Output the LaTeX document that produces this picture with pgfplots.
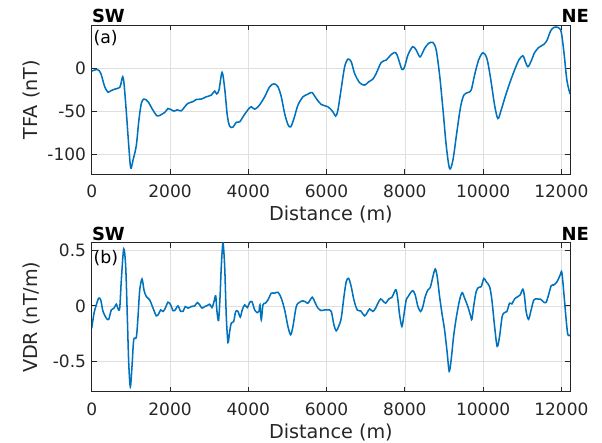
\documentclass[border=0pt]{standalone}
\usepackage{pgfplots}
\pgfplotsset{compat=1.18}
\usepackage{fontspec}
\setmainfont{DejaVu Sans}
\definecolor{mblue}{RGB}{0,114,189}
\definecolor{axgray}{RGB}{38,38,38}
\definecolor{grd}{RGB}{223,223,223}
\pgfplotsset{
  myax/.style={
    scale only axis, width=358.7pt, height=111.75pt, anchor=south west,
    xmin=0, xmax=12220, scaled x ticks=false, scaled y ticks=false,
    xtick={0,2000,4000,6000,8000,10000,12000},
    xticklabels={0,2000,4000,6000,8000,10000,12000},
    xtick pos=both, ytick pos=both, tick align=inside,
    major tick length=3.6pt,
    grid=major, major grid style={grd, line width=0.5pt},
    axis line style={axgray, line width=0.6pt},
    every tick/.style={axgray, line width=0.6pt},
    tick label style={font=\fontsize{12.75pt}{14pt}\selectfont, text=axgray},
    label style={font=\fontsize{14.4pt}{16pt}\selectfont, text=axgray},
    xticklabel style={yshift=-5pt},
    yticklabel style={xshift=-0.75pt},
    xlabel={Distance (m)},
    xlabel style={at={(axis description cs:0.5,-0.275)}, anchor=center},
    ylabel style={at={(axis description cs:-0.125,0.5)}, anchor=center},
    clip mode=individual,
  }
}
\begin{document}
\begin{tikzpicture}
\useasboundingbox (0,0) rectangle (451.5pt,331.5pt);
\begin{axis}[myax, at={(68.8pt,201pt)},
  ymin=-123, ymax=50, ytick={-100,-50,0}, yticklabels={-100,-50,0},
  ylabel={TFA (nT)}]
\addplot[mblue, line width=1.15pt, smooth, tension=0.5] coordinates {
(0,-3.5)(143,-1.8)(230,-6)(332,-21.7)(416,-28)(485,-26.4)(587,-24.5)(715,-22.5)(756,-16)(792,-10)(825,-18)(884,-51)(945,-89.6)(996,-116)(1055,-107)(1140,-89.6)(1200,-62.5)(1267,-41)(1336,-36)(1438,-39)(1540,-47)(1668,-55.5)(1778,-54)(1864,-51.6)(1949,-47)(2017,-48)(2102,-50)(2186,-48.5)(2288,-49.7)(2375,-45)(2459,-41)(2587,-39)(2671,-36.5)(2799,-36)(2927,-33.4)(3055,-31.4)(3141,-26.7)(3192,-30)(3251,-25.6)(3330,-5)(3397,-23.7)(3463,-54.7)(3524,-67.5)(3609,-68.6)(3693,-63)(3780,-62.5)(3864,-56.6)(3949,-51)(4035,-46)(4076,-45)(4163,-47.7)(4247,-45)(4316,-41)(4418,-33.4)(4546,-21.7)(4656,-18.3)(4758,-21.7)(4843,-33.4)(4929,-52.8)(5013,-65.6)(5082,-68.3)(5167,-58.6)(5269,-43)(5397,-33.4)(5524,-30.3)(5626,-28.4)(5736,-35.3)(5864,-42.3)(6035,-45)(6163,-50.8)(6232,-55.8)(6290,-48.8)(6375,-23.7)(6462,1.5)(6546,10.4)(6630,7.3)(6717,-6.3)(6845,-17)(6972,-19.8)(7074,-16)(7184,-12.8)(7268,-6.3)(7396,6.5)(7524,9.3)(7636,15)(7738,18.1)(7805,15)(7925,-1.6)(7994,1.5)(8078,15)(8200,24.8)(8290,21)(8390,13)(8505,22.8)(8607,28.6)(8717,29.8)(8801,21)(8888,-8)(8972,-47)(9057,-89.6)(9143,-116.7)(9228,-107)(9330,-74)(9424,-45)(9508,-31.4)(9610,-28.4)(9695,-25.6)(9782,-8.1)(9884,9.3)(9994,17.8)(10096,11.2)(10191,-12)(10293,-43)(10377,-58.6)(10461,-48.8)(10563,-33.4)(10676,-17.9)(10803,-2.3)(10913,9.3)(11015,14.3)(11074,8.1)(11143,1.5)(11227,8.1)(11314,17.8)(11424,24)(11552,27.5)(11636,32.6)(11723,43)(11807,47.2)(11910,47.2)(11994,42.2)(12063,19)(12140,-14)(12220,-30)
};
\node[anchor=south west, inner sep=0pt, font=\fontsize{13.5pt}{15pt}\selectfont\bfseries] at (rel axis cs:0,1) [yshift=1.5pt] {SW};
\node[anchor=south west, inner sep=0pt, font=\fontsize{13.5pt}{15pt}\selectfont\bfseries] at (axis cs:12000,50) [yshift=1.5pt] {NE};
\node[anchor=north west, inner sep=0pt, font=\fontsize{13pt}{15pt}\selectfont] at (rel axis cs:0,1) [xshift=1.2pt, yshift=-4pt] {(a)};
\end{axis}
\begin{axis}[myax, at={(68.8pt,37.7pt)},
  ymin=-0.768, ymax=0.565, ytick={-0.5,0,0.5}, yticklabels={-0.5,0,0.5},
  ylabel={VDR (nT/m)}]
\addplot[mblue, line width=1.15pt, smooth, tension=0.5] coordinates {
(0,-0.2)(59,-0.065)(118,0.01)(179,0.07)(230,0.053)(289,-0.05)(373,-0.11)(434,-0.12)(500,-0.036)(570,-0.02)(628,0.015)(672,-0.027)(715,-0.02)(756,0.23)(817,0.51)(868,0.35)(909,-0.095)(945,-0.51)(986,-0.724)(1029,-0.54)(1073,-0.303)(1140,-0.28)(1183,-0.095)(1226,0.14)(1285,0.24)(1336,0.14)(1395,0.083)(1481,0.053)(1566,-0.02)(1650,-0.089)(1711,-0.071)(1762,-0.036)(1821,-0.05)(1880,-0.02)(1949,0.033)(2017,0.009)(2076,-0.042)(2135,-0.036)(2204,0)(2273,-0.05)(2332,-0.05)(2390,-0.006)(2459,-0.02)(2544,-0.006)(2631,0)(2697,0.03)(2758,0.009)(2817,-0.02)(2886,-0.006)(2952,0.003)(3014,0.015)(3072,-0.015)(3124,0.038)(3167,0.09)(3200,-0.05)(3240,-0.13)(3277,0.07)(3310,0.35)(3353,0.56)(3397,0.35)(3438,-0.095)(3481,-0.327)(3524,-0.23)(3566,-0.154)(3627,-0.14)(3678,-0.05)(3737,-0.05)(3795,-0.1)(3846,-0.036)(3908,0.009)(3974,-0.015)(4035,0.03)(4094,0.038)(4163,-0.036)(4229,-0.06)(4273,-0.05)(4298,0.009)(4332,-0.125)(4375,0.009)(4434,0.024)(4503,0.053)(4587,0.113)(4674,0.113)(4758,0.122)(4843,0.069)(4929,-0.036)(5013,-0.184)(5082,-0.258)(5141,-0.184)(5226,-0.006)(5312,0.033)(5397,0.045)(5455,0.038)(5524,0.024)(5634,0.077)(5695,0.038)(5780,-0.02)(5864,-0.042)(5951,-0.036)(6035,-0.036)(6120,-0.05)(6188,-0.17)(6247,-0.223)(6308,-0.184)(6375,-0.11)(6444,0.083)(6503,0.217)(6564,0.246)(6630,0.172)(6699,0.053)(6783,-0.036)(6870,-0.045)(6972,-0.089)(7038,-0.06)(7100,-0.027)(7184,-0.05)(7253,-0.02)(7312,0.024)(7381,0.062)(7440,0.045)(7509,0.024)(7585,0.06)(7670,0.077)(7738,0.128)(7780,0.142)(7823,0.053)(7866,-0.08)(7925,-0.184)(7976,-0.08)(8035,0.053)(8078,0.08)(8147,0.118)(8206,0.136)(8265,0.098)(8334,-0.006)(8403,-0.05)(8461,-0.006)(8520,0.083)(8589,0.142)(8648,0.163)(8717,0.261)(8776,0.33)(8827,0.261)(8888,0.083)(8954,-0.08)(9015,-0.214)(9082,-0.42)(9133,-0.585)(9184,-0.48)(9246,-0.273)(9312,-0.11)(9399,0.053)(9465,0.118)(9527,0.069)(9610,-0.006)(9680,-0.089)(9713,-0.12)(9764,0.009)(9823,0.128)(9884,0.166)(9950,0.172)(10019,0.246)(10078,0.217)(10165,0.172)(10224,0.053)(10293,-0.184)(10359,-0.362)(10420,-0.273)(10487,-0.095)(10548,-0.06)(10607,-0.05)(10676,0.024)(10735,0.018)(10803,0.062)(10888,0.083)(10947,0.098)(11015,0.149)(11058,0.083)(11099,-0.05)(11161,-0.12)(11227,-0.036)(11296,0.053)(11381,0.062)(11468,0.06)(11552,0.033)(11611,0.033)(11672,0.098)(11739,0.181)(11807,0.187)(11891,0.217)(11968,0.276)(12011,0.3)(12063,0.113)(12122,-0.125)(12165,-0.258)(12220,-0.26)
};
\node[anchor=south west, inner sep=0pt, font=\fontsize{13.5pt}{15pt}\selectfont\bfseries] at (rel axis cs:0,1) [yshift=1.5pt] {SW};
\node[anchor=south west, inner sep=0pt, font=\fontsize{13.5pt}{15pt}\selectfont\bfseries] at (axis cs:12000,0.565) [yshift=1.5pt] {NE};
\node[anchor=north west, inner sep=0pt, font=\fontsize{13pt}{15pt}\selectfont] at (rel axis cs:0,1) [xshift=1.2pt, yshift=-5.5pt] {(b)};
\end{axis}
\end{tikzpicture}
\end{document}
